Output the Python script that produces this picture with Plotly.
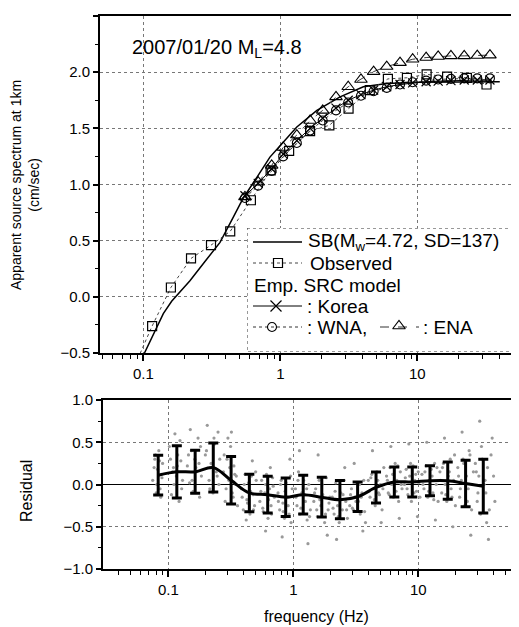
import plotly.graph_objects as go

# ---------------- data ----------------
sb_freq = [0.102, 0.112, 0.125, 0.14, 0.161, 0.19, 0.219, 0.28, 0.363, 0.45, 0.537,
           0.68, 0.84, 1.0, 1.32, 1.85, 2.73, 4.04, 6.0, 10.0, 20.0, 40.0]
sb_val = [-0.5, -0.40, -0.27, -0.15, -0.04, 0.06, 0.143, 0.31, 0.485, 0.70, 0.88,
          1.07, 1.244, 1.348, 1.512, 1.66, 1.78, 1.87, 1.90, 1.91, 1.915, 1.915]

obs_freq = [0.084, 0.116, 0.159, 0.223, 0.312, 0.431, 0.61, 0.85, 1.16, 1.65, 2.28,
            3.15, 4.5, 6.1, 8.4, 11.7, 16.5, 23.0, 32.0]
obs_val = [-0.65, -0.26, 0.083, 0.342, 0.46, 0.583, 0.86, 1.125, 1.30, 1.475, 1.527,
           1.676, 1.84, 1.94, 1.95, 1.98, 1.96, 1.95, 1.89]

model_freq = [0.552, 0.69, 0.865, 1.05, 1.32, 1.65, 2.04, 2.55, 3.13, 3.88, 4.8,
              5.98, 7.48, 9.25, 11.6, 14.2, 17.6, 22.0, 27.4, 33.9]
korea_val = [0.90, 1.01, 1.14, 1.27, 1.39, 1.50, 1.59, 1.68, 1.75, 1.80, 1.84,
             1.87, 1.89, 1.905, 1.915, 1.92, 1.925, 1.93, 1.93, 1.93]
wna_val = [0.88, 0.99, 1.12, 1.25, 1.37, 1.48, 1.57, 1.66, 1.73, 1.79, 1.83,
           1.86, 1.89, 1.91, 1.925, 1.935, 1.94, 1.945, 1.945, 1.945]
ena_val = [0.89, 1.02, 1.17, 1.33, 1.44, 1.57, 1.66, 1.78, 1.87, 1.935, 2.005,
           2.05, 2.085, 2.115, 2.13, 2.14, 2.145, 2.145, 2.148, 2.152]

bin_freq = [0.083, 0.117, 0.164, 0.229, 0.318, 0.445, 0.624, 0.869, 1.20, 1.69,
            2.36, 3.27, 4.59, 6.43, 8.95, 12.4, 17.2, 23.9, 33.1]
bin_mean = [0.11, 0.15, 0.15, 0.20, 0.05, -0.10, -0.12, -0.15, -0.12, -0.15,
            -0.18, -0.145, -0.035, 0.03, 0.03, 0.045, 0.045, 0.012, -0.02]
bin_err = [0.235, 0.31, 0.255, 0.29, 0.28, 0.222, 0.218, 0.228, 0.228, 0.236,
           0.226, 0.176, 0.183, 0.178, 0.178, 0.178, 0.22, 0.276, 0.318]

scatter_freq = [
    0.075, 0.078, 0.080, 0.082, 0.084, 0.086, 0.088, 0.090, 0.079, 0.087,
    0.077, 0.081, 0.085, 0.089,
    0.102, 0.106, 0.110, 0.113, 0.116, 0.119, 0.122, 0.126, 0.130, 0.108, 0.124,
    0.104, 0.111, 0.118, 0.128,
    0.142, 0.148, 0.153, 0.158, 0.163, 0.168, 0.173, 0.178, 0.184, 0.150, 0.176,
    0.145, 0.155, 0.166, 0.181,
    0.198, 0.205, 0.212, 0.220, 0.228, 0.235, 0.242, 0.250, 0.258, 0.215, 0.246,
    0.202, 0.217, 0.232, 0.254,
    0.276, 0.285, 0.295, 0.305, 0.315, 0.325, 0.335, 0.345, 0.358, 0.300, 0.340,
    0.280, 0.290, 0.310, 0.330, 0.350, 0.320,
    0.385, 0.398, 0.412, 0.425, 0.438, 0.450, 0.463, 0.476, 0.490, 0.505, 0.420, 0.470,
    0.390, 0.405, 0.430, 0.455, 0.480, 0.500,
    0.540, 0.558, 0.575, 0.592, 0.610, 0.628, 0.646, 0.664, 0.683, 0.705, 0.600, 0.655,
    0.550, 0.570, 0.600, 0.635, 0.670, 0.690,
    0.755, 0.778, 0.800, 0.825, 0.850, 0.875, 0.900, 0.925, 0.950, 0.980, 0.815, 0.940,
    0.760, 0.790, 0.830, 0.860, 0.910, 0.960,
    1.04, 1.07, 1.10, 1.13, 1.17, 1.21, 1.25, 1.29, 1.33, 1.37, 1.12, 1.31,
    1.05, 1.09, 1.15, 1.23, 1.28, 1.35,
    1.46, 1.51, 1.56, 1.61, 1.66, 1.72, 1.78, 1.84, 1.90, 1.96, 1.58, 1.87,
    1.48, 1.54, 1.63, 1.70, 1.81, 1.93,
    2.05, 2.12, 2.19, 2.26, 2.33, 2.40, 2.47, 2.55, 2.63, 2.71, 2.22, 2.58,
    2.08, 2.16, 2.29, 2.37, 2.50, 2.67,
    2.83, 2.92, 3.02, 3.12, 3.22, 3.32, 3.43, 3.54, 3.66, 3.78, 3.07, 3.60,
    2.87, 2.97, 3.17, 3.38, 3.49, 3.72,
    3.98, 4.11, 4.24, 4.38, 4.52, 4.66, 4.81, 4.97, 5.13, 5.30, 4.30, 5.05,
    4.05, 4.17, 4.45, 4.74, 4.89, 5.21,
    5.57, 5.75, 5.94, 6.13, 6.33, 6.53, 6.74, 6.96, 7.18, 7.41, 6.03, 7.05,
    5.66, 5.85, 6.23, 6.64, 6.85, 7.30,
    7.75, 8.00, 8.26, 8.53, 8.81, 9.09, 9.38, 9.68, 9.99, 10.3, 8.40, 9.85,
    7.87, 8.13, 8.67, 9.23, 9.53, 10.1,
    10.7, 11.1, 11.5, 11.9, 12.3, 12.7, 13.1, 13.5, 13.9, 14.4, 11.7, 13.7,
    10.9, 11.3, 12.1, 12.9, 13.3, 14.1,
    14.9, 15.4, 15.9, 16.4, 16.9, 17.4, 18.0, 18.6, 19.2, 19.8, 16.2, 18.9,
    15.1, 15.6, 16.6, 17.7, 18.3, 19.5,
    20.7, 21.4, 22.1, 22.8, 23.5, 24.3, 25.1, 25.9, 26.7, 27.6, 22.4, 26.3,
    21.0, 21.7, 23.1, 24.7, 25.5, 27.1,
    28.6, 29.6, 30.5, 31.5, 32.5, 33.6, 34.7, 35.8, 37.0, 38.2, 31.0, 36.4, 40.0, 41.0,
    29.1, 30.0, 32.0, 34.2, 35.2, 39.0,
]
scatter_resid = [
    0.05, 0.30, -0.10, 0.18, 0.40, -0.05, 0.12, 0.25, 0.35, -0.15,
    0.20, 0.00, 0.28, 0.08,
    0.45, -0.12, 0.20, 0.60, 0.10, 0.35, -0.20, 0.28, 0.05, 0.15, 0.52,
    0.30, 0.00, 0.22, -0.05,
    0.22, 0.02, 0.40, -0.08, 0.30, 0.15, 0.55, -0.15, 0.10, 0.65, 0.25,
    0.35, 0.05, 0.20, 0.45,
    0.35, 0.70, 0.05, 0.25, -0.10, 0.48, 0.15, 0.62, 0.30, -0.05, 0.10,
    0.40, 0.20, 0.55, 0.00,
    0.15, -0.20, 0.30, 0.05, 0.45, -0.10, 0.22, 0.00, -0.25, 0.55, 0.12,
    0.35, -0.05, 0.20, -0.15, 0.10, 0.62,
    -0.05, -0.30, 0.12, -0.18, 0.02, -0.35, 0.10, -0.12, -0.25, 0.05, -0.42, 0.28,
    -0.15, 0.00, -0.22, -0.08, -0.30, 0.15,
    -0.20, 0.05, -0.32, -0.10, 0.12, -0.40, -0.05, -0.25, 0.08, -0.15, -0.55, 0.20,
    -0.08, -0.28, 0.00, -0.18, -0.35, -0.02,
    -0.10, -0.30, 0.05, -0.22, -0.40, 0.02, -0.15, -0.35, 0.10, -0.05, -0.62, 0.30,
    -0.20, 0.00, -0.32, -0.08, -0.25, -0.45,
    -0.05, -0.25, 0.15, -0.35, -0.10, 0.05, -0.20, -0.42, 0.00, -0.30, 0.40, -0.70,
    -0.15, 0.05, -0.28, -0.12, -0.05, -0.38,
    -0.20, -0.05, -0.38, 0.05, -0.25, -0.12, -0.45, 0.08, -0.30, -0.15, 0.35, -0.60,
    -0.10, -0.30, -0.18, 0.00, -0.35, -0.22,
    -0.15, -0.35, 0.02, -0.25, -0.45, -0.10, -0.30, 0.05, -0.20, -0.40, -0.65, 0.20,
    -0.28, -0.08, -0.38, -0.18, -0.12, -0.30,
    -0.25, -0.05, -0.30, -0.15, 0.02, -0.20, -0.35, -0.10, 0.05, -0.45, 0.25, -0.55,
    -0.12, -0.28, -0.20, 0.00, -0.15, -0.32,
    0.05, -0.15, 0.12, -0.05, -0.25, 0.15, -0.10, 0.00, -0.30, 0.20, 0.40, -0.45,
    -0.08, 0.08, -0.18, 0.05, -0.12, -0.05,
    0.10, -0.10, 0.20, 0.00, -0.15, 0.25, 0.05, -0.20, 0.15, -0.05, 0.45, -0.40,
    0.05, -0.12, 0.12, -0.08, 0.22, 0.00,
    0.00, 0.18, -0.12, 0.10, -0.20, 0.22, 0.05, -0.08, 0.15, -0.15, 0.48, -0.38,
    0.08, -0.05, 0.25, -0.10, 0.12, 0.02,
    0.12, -0.05, 0.22, -0.15, 0.05, 0.18, -0.10, 0.25, 0.00, -0.20, 0.50, -0.42,
    0.00, 0.15, -0.08, 0.10, -0.18, 0.20,
    0.15, -0.10, 0.25, 0.00, -0.20, 0.10, 0.30, -0.15, 0.05, -0.25, 0.55, -0.50,
    0.05, 0.20, -0.12, 0.15, -0.05, 0.35,
    0.20, -0.15, 0.05, 0.30, -0.25, 0.10, -0.05, 0.35, -0.30, 0.15, 0.62, -0.60,
    0.10, -0.05, 0.25, -0.20, 0.40, 0.00,
    0.25, -0.20, 0.10, -0.35, 0.30, 0.00, -0.10, 0.20, -0.30, 0.35, 0.75, -0.65, 0.10, -0.20,
    0.15, -0.10, 0.45, 0.05, -0.45, 0.55,
]

x_tick_vals = [0.1, 1, 10]
x_tick_text = ["0.1", "1", "10"]

# ---------------- layout helpers ----------------
# The page adds an 8 px body margin; all positions below are given in
# reference-image pixels and shifted by OFF into figure pixels.
OFF = 8
W, H = 519, 627
ML, MR, MT, MB = 100 - OFF, 0, 16 - OFF, H - (569 - OFF)
PW, PH = W - ML - MR, H - MT - MB


def px_x(px):
    return (px - OFF - ML) / PW


def px_y(py):
    return (H - MB - (py - OFF)) / PH


FONT = "Liberation Sans, Arial, sans-serif"
minor_ticks = [v * d for d in (0.01, 0.1, 1, 10) for v in range(2, 10)]

fig = go.Figure()

# ---------------- top panel ----------------
fig.add_trace(go.Scatter(x=sb_freq, y=sb_val, mode="lines",
                         line=dict(color="black", width=1.5),
                         xaxis="x", yaxis="y", showlegend=False))
fig.add_trace(go.Scatter(x=obs_freq, y=obs_val, mode="lines+markers",
                         line=dict(color="#444", width=1, dash="dot"),
                         marker=dict(symbol="square-open", size=9, color="black",
                                     line=dict(width=1.2)),
                         xaxis="x", yaxis="y", showlegend=False))
fig.add_trace(go.Scatter(x=model_freq, y=ena_val, mode="lines+markers",
                         line=dict(color="#333", width=1, dash="dash"),
                         marker=dict(symbol="triangle-up-open", size=11, color="black",
                                     line=dict(width=1.1)),
                         xaxis="x", yaxis="y", showlegend=False))
fig.add_trace(go.Scatter(x=model_freq, y=wna_val, mode="lines+markers",
                         line=dict(color="#333", width=1, dash="dot"),
                         marker=dict(symbol="circle-open", size=9, color="black",
                                     line=dict(width=1.1)),
                         xaxis="x", yaxis="y", showlegend=False))
fig.add_trace(go.Scatter(x=model_freq, y=korea_val, mode="lines+markers",
                         line=dict(color="black", width=1),
                         marker=dict(symbol="x-thin", size=9, color="black",
                                     line=dict(width=1.2, color="black")),
                         xaxis="x", yaxis="y", showlegend=False))

# ---------------- bottom panel ----------------
fig.add_trace(go.Scatter(x=scatter_freq, y=scatter_resid, mode="markers",
                         marker=dict(size=3.2, color="#999999"),
                         xaxis="x2", yaxis="y2", showlegend=False))
fig.add_trace(go.Scatter(x=bin_freq, y=bin_mean, mode="lines",
                         line=dict(color="black", width=3, shape="spline"),
                         error_y=dict(type="data", array=bin_err, visible=True,
                                      thickness=3, width=5, color="black"),
                         xaxis="x2", yaxis="y2", showlegend=False))

# ---------------- legend (own overlay box, reference pixel units) ----------------
LX0, LY0, LY1 = 247, 228, 352
LX1 = W + OFF
leg_axes = dict(xaxis="x3", yaxis="y3", showlegend=False, hoverinfo="skip")
fig.add_trace(go.Scatter(x=[253, 302], y=[242, 242], mode="lines",
                         line=dict(color="black", width=1.5), **leg_axes))
fig.add_trace(go.Scatter(x=[253, 302], y=[263, 263], mode="lines",
                         line=dict(color="#444", width=1, dash="dot"), **leg_axes))
fig.add_trace(go.Scatter(x=[278], y=[263], mode="markers",
                         marker=dict(symbol="square-open", size=9, color="black",
                                     line=dict(width=1.2)), **leg_axes))
fig.add_trace(go.Scatter(x=[253, 302], y=[306, 306], mode="lines",
                         line=dict(color="black", width=1), **leg_axes))
fig.add_trace(go.Scatter(x=[276], y=[306], mode="markers",
                         marker=dict(symbol="x-thin", size=11, color="black",
                                     line=dict(width=1.2, color="black")), **leg_axes))
fig.add_trace(go.Scatter(x=[253, 302], y=[327, 327], mode="lines",
                         line=dict(color="#333", width=1, dash="dot"), **leg_axes))
fig.add_trace(go.Scatter(x=[272], y=[327], mode="markers",
                         marker=dict(symbol="circle-open", size=9, color="black",
                                     line=dict(width=1.1)), **leg_axes))
fig.add_trace(go.Scatter(x=[380, 419], y=[327, 327], mode="lines",
                         line=dict(color="#333", width=1, dash="dash"), **leg_axes))
fig.add_trace(go.Scatter(x=[399], y=[326], mode="markers",
                         marker=dict(symbol="triangle-up-open", size=11, color="black",
                                     line=dict(width=1.1)), **leg_axes))

leg_font = dict(family=FONT, size=19, color="black")
legend_texts = [
    (306, 242, "SB(M<sub>w</sub>=4.72, SD=137)"),
    (308, 263, "Observed"),
    (252, 285, "Emp. SRC model"),
    (305, 306, ": Korea"),
    (305, 327, ": WNA,"),
    (421, 327, ": ENA"),
]
annotations = []
for lx, ly, txt in legend_texts:
    annotations.append(dict(x=lx, y=ly, xref="x3", yref="y3", text=txt,
                            showarrow=False, xanchor="left", yanchor="middle",
                            font=leg_font))

# ---------------- text annotations ----------------
annotations += [
    dict(x=px_x(130), y=px_y(48), xref="paper", yref="paper",
         text="2007/01/20 M<sub>L</sub>=4.8", showarrow=False,
         xanchor="left", yanchor="middle", font=dict(family=FONT, size=20, color="black")),
    dict(x=px_x(25), y=px_y(185), xref="paper", yref="paper",
         text="Apparent source spectrum at 1km<br>(cm/sec)", textangle=-90,
         showarrow=False, xanchor="center", yanchor="middle",
         font=dict(family=FONT, size=14, color="black")),
    dict(x=px_x(26), y=px_y(491), xref="paper", yref="paper",
         text="Residual", textangle=-90, showarrow=False,
         xanchor="center", yanchor="middle",
         font=dict(family=FONT, size=16, color="black")),
    dict(x=px_x(316), y=px_y(616), xref="paper", yref="paper",
         text="frequency (Hz)", showarrow=False,
         xanchor="center", yanchor="middle",
         font=dict(family=FONT, size=16, color="black")),
]

shapes = [
    dict(type="rect", xref="x3", yref="y3", x0=LX0, x1=LX1 + 5, y0=LY0, y1=LY1,
         fillcolor="white", line=dict(color="#333", width=1, dash="dot"), layer="below"),
]

tickfont = dict(family=FONT, size=15, color="black")
grid = dict(showgrid=True, gridcolor="#777", gridwidth=1, griddash="dot")

xaxis_common = dict(type="log", tickmode="array", tickvals=x_tick_vals, ticktext=x_tick_text,
                    ticks="outside", ticklen=6, tickwidth=1.5, tickcolor="black",
                    showline=True, linecolor="black", linewidth=2, mirror=True,
                    tickfont=tickfont, zeroline=False,
                    minor=dict(tickmode="array", tickvals=minor_ticks, ticks="outside",
                               ticklen=4, tickwidth=1, tickcolor="black", showgrid=False),
                    **grid)
yaxis_common = dict(dtick=0.5, tickformat=".1f", ticks="outside", ticklen=5, tickwidth=1.5,
                    tickcolor="black", showline=True, linecolor="black", linewidth=2,
                    mirror=False, tickfont=tickfont,
                    minor=dict(dtick=0.25, ticks="outside", ticklen=3, tickwidth=1,
                               tickcolor="black", showgrid=False),
                    **grid)

# axis ranges: left edge = reference px 100 (top) / 103 (bottom); right edge = page px 527
top_range = [-1 - (143.3 - 100) / 137, -1 + (W + OFF - 143.3) / 137]
bot_range = [-1 - (168.3 - 103) / 125, -1 + (W + OFF - 168.3) / 125]

fig.update_layout(
    width=W, height=H,
    margin=dict(l=ML, r=MR, t=MT, b=MB),
    paper_bgcolor="white", plot_bgcolor="white",
    font=dict(family=FONT, color="black"),
    showlegend=False,
    xaxis=dict(domain=[0, 1], anchor="y", range=top_range, **xaxis_common),
    yaxis=dict(domain=[px_y(353), 1], anchor="x", range=[-0.5, 2.5], zeroline=False,
               **yaxis_common),
    xaxis2=dict(domain=[px_x(103), 1], anchor="y2", range=bot_range, **xaxis_common),
    yaxis2=dict(domain=[0, px_y(400)], anchor="x2", range=[-1.0, 1.0], zeroline=True,
                zerolinecolor="black", zerolinewidth=1, **yaxis_common),
    xaxis3=dict(domain=[px_x(LX0), 1], anchor="y3", range=[LX0, LX1], visible=False,
                showgrid=False, zeroline=False, fixedrange=True),
    yaxis3=dict(domain=[px_y(LY1), px_y(LY0)], anchor="x3", range=[LY1, LY0], visible=False,
                showgrid=False, zeroline=False, fixedrange=True),
    annotations=annotations,
    shapes=shapes,
)

fig.write_html("out.html")
